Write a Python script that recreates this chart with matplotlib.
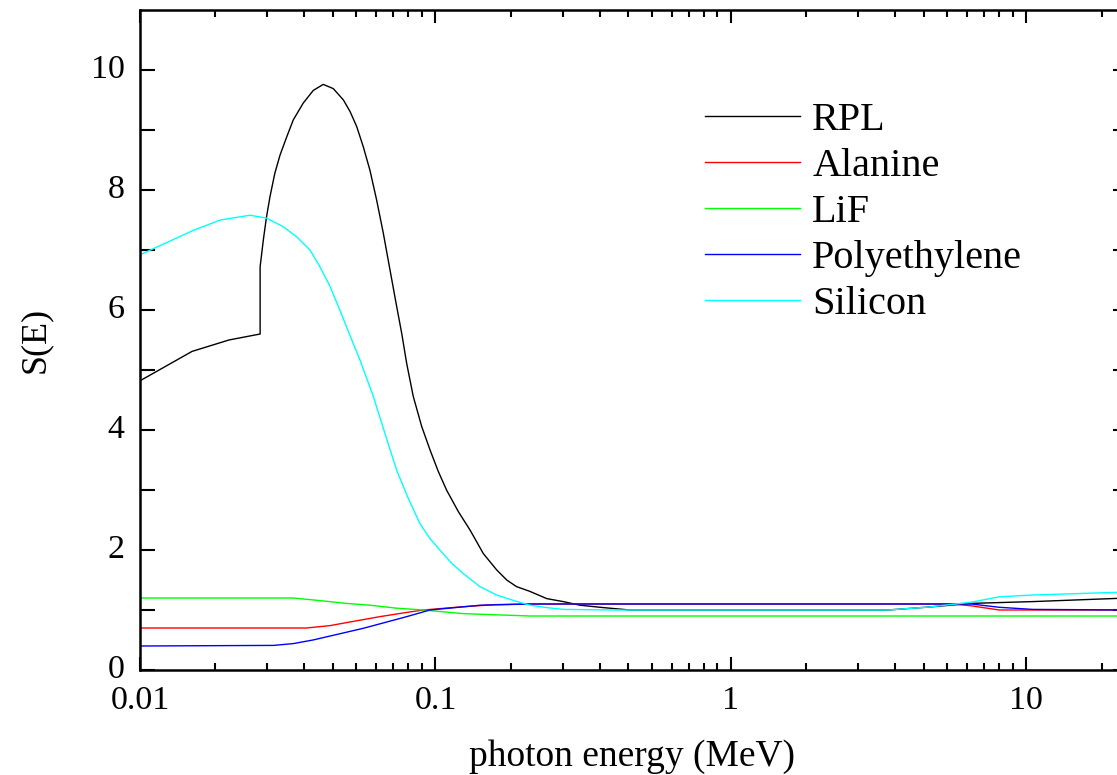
import numpy as np
import matplotlib
matplotlib.use("Agg")
import matplotlib.pyplot as plt
import matplotlib.transforms as mtransforms
from matplotlib.ticker import FixedLocator, NullFormatter, FixedFormatter

# ---- data ----
rpl_E = [0.01, 0.015, 0.02, 0.0255, 0.0255, 0.02615, 0.0268, 0.02754, 0.0286, 0.02977,
         0.0314, 0.03303, 0.0357, 0.03859, 0.0417, 0.0451, 0.0488, 0.05137, 0.0541, 0.05698,
         0.060, 0.06324, 0.0666, 0.07015, 0.0739, 0.07687, 0.0799, 0.0841, 0.0898, 0.0958,
         0.1022, 0.109, 0.1195, 0.131, 0.1452, 0.161, 0.1742, 0.188, 0.2088, 0.238,
         0.2707, 0.308, 0.3698, 0.455, 3.4, 4.7, 6.5, 10.5, 22]
rpl_S = [4.82, 5.31, 5.5, 5.6, 6.72, 7.17, 7.55, 7.89, 8.28, 8.58,
         8.89, 9.17, 9.45, 9.66, 9.76, 9.69, 9.5, 9.31, 9.06, 8.72,
         8.33, 7.83, 7.28, 6.67, 6.06, 5.61, 5.11, 4.56, 4.06, 3.67,
         3.31, 3.0, 2.64, 2.33, 1.94, 1.67, 1.5, 1.39, 1.31, 1.19,
         1.14, 1.08, 1.04, 1.0, 1.0, 1.05, 1.11, 1.14, 1.2]

ala_E = [0.01, 0.0366, 0.044, 0.050, 0.057, 0.065, 0.080, 0.091, 0.124, 0.16, 0.209,
         5.6, 6.5, 8.1, 22]
ala_S = [0.7, 0.7, 0.74, 0.79, 0.84, 0.89, 0.96, 1.0, 1.055, 1.09, 1.1,
         1.1, 1.07, 1.0, 1.0]

lif_E = [0.01, 0.033, 0.04, 0.05, 0.06, 0.074, 0.091, 0.124, 0.16, 0.209, 22]
lif_S = [1.2, 1.2, 1.16, 1.11, 1.08, 1.03, 1.0, 0.94, 0.92, 0.9, 0.9]

pe_E = [0.01, 0.0283, 0.033, 0.0385, 0.057, 0.080, 0.0958, 0.142, 0.209,
        5.6, 6.5, 8.1, 10.5, 22]
pe_S = [0.4, 0.41, 0.44, 0.5, 0.695, 0.89, 1.0, 1.08, 1.1,
        1.1, 1.1, 1.045, 1.01, 1.0]

si_E = [0.01, 0.0152, 0.0187, 0.0236, 0.02684, 0.0305, 0.0339, 0.0376, 0.04065, 0.044,
        0.0469, 0.050, 0.0527, 0.0555, 0.0616, 0.06748, 0.0739, 0.0809, 0.0886, 0.0958,
        0.1035, 0.1134, 0.124, 0.1414, 0.161, 0.1834, 0.209, 0.2378, 0.271, 0.4,
        3.4, 4.7, 6.5, 8.1, 10.5, 22]
si_S = [6.92, 7.33, 7.5, 7.58, 7.53, 7.39, 7.22, 7.0, 6.72, 6.39,
        6.06, 5.72, 5.44, 5.17, 4.56, 3.94, 3.33, 2.86, 2.44, 2.19,
        2.0, 1.78, 1.61, 1.39, 1.25, 1.16, 1.08, 1.04, 1.01, 1.0,
        1.0, 1.05, 1.13, 1.22, 1.25, 1.3]

series_names = ["RPL", "Alanine", "LiF", "Polyethylene", "Silicon"]
series_colors = ["#000000", "#ff0000", "#00ff00", "#0000ff", "#00ffff"]

x_major = [0.01, 0.1, 1, 10]
x_major_labels = ["0.01", "0.1", "1", "10"]
y_major = [0, 2, 4, 6, 8, 10]

# ---- figure ----
plt.rcParams['font.family'] = ['Liberation Serif', 'DejaVu Serif']
W, H = 1117, 775
fig = plt.figure(figsize=(W / 100, H / 100), dpi=100)
left, right_px, top_px, bottom_px = 140, 1127.6, 10, 670
ax_w = right_px - left
ax = fig.add_axes([left / W, 1 - bottom_px / H, ax_w / W, (bottom_px - top_px) / H])

data = [(rpl_E, rpl_S), (ala_E, ala_S), (lif_E, lif_S), (pe_E, pe_S), (si_E, si_S)]
for (E, S), name, c in zip(data, series_names, series_colors):
    ax.plot(E, S, color=c, lw=1.0, label=name)

ax.set_xscale('log')
ax.set_xlim(0.01, 22)
ax.set_ylim(0, 11)

ax.xaxis.set_major_locator(FixedLocator(x_major))
ax.xaxis.set_major_formatter(FixedFormatter(x_major_labels))
minor_pos = [0.9 * k * 10.0 ** n for n in range(-2, 2) for k in range(2, 11)]
ax.xaxis.set_minor_locator(FixedLocator(minor_pos))
ax.xaxis.set_minor_formatter(NullFormatter())
ax.yaxis.set_major_locator(FixedLocator(y_major))
ax.yaxis.set_minor_locator(FixedLocator([1, 3, 5, 7, 9]))

ax.tick_params(which='both', direction='in', top=True, right=True, width=1.5)
ax.tick_params(axis='x', which='major', length=9.5, labelsize=24.5, pad=11.5)
ax.tick_params(axis='x', which='minor', length=5)
ax.tick_params(axis='y', which='both', length=11, labelsize=24.5, pad=11)
for s in ax.spines.values():
    s.set_linewidth(1.8)

# nudge y tick labels up slightly (as in the reference)
up = mtransforms.ScaledTranslation(0, 3 / 72, fig.dpi_scale_trans)
for lbl in ax.get_yticklabels():
    lbl.set_transform(lbl.get_transform() + up)

ax.set_xlabel("photon energy (MeV)", fontsize=27)
ax.xaxis.set_label_coords((632 - left) / ax_w, -(739 - 670) / 660)
ax.set_ylabel("S(E)", fontsize=26)
ax.yaxis.set_label_coords((52 - left) / ax_w, 0.5)

leg = ax.legend(loc='upper left', bbox_to_anchor=(705 / W, 1 - 102 / H),
                bbox_transform=fig.transFigure, frameon=False, fontsize=29,
                handlelength=2.36, handletextpad=0.30, labelspacing=0.22,
                borderpad=0, borderaxespad=0)

fig.savefig("out.png", dpi=100)
